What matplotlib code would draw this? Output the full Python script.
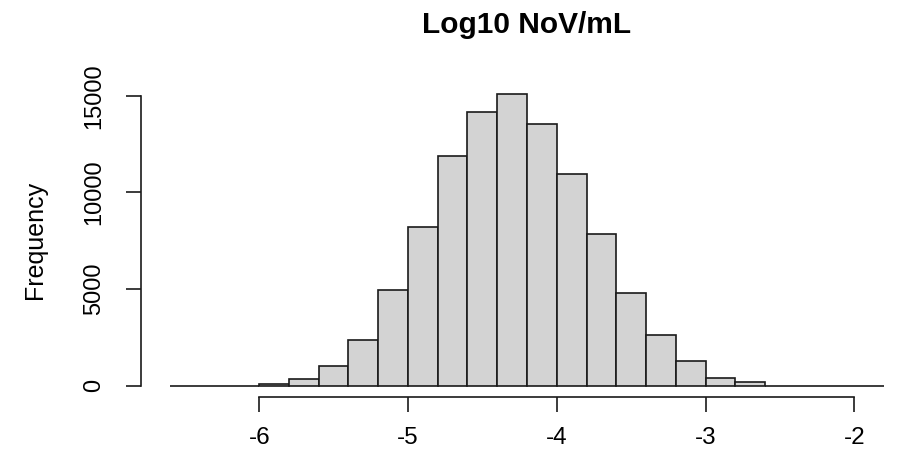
import numpy as np
from matplotlib import pyplot as plt

plt.rcParams['font.family'] = ['Liberation Sans', 'DejaVu Sans']

# histogram of log10 NoV/mL, bins of width 0.2
bin_edges = np.round(np.arange(-6.6, -1.79, 0.2), 1)
counts = [0, 0, 0, 90, 330, 1010, 2360, 4960, 8210, 11865, 14180, 15100,
          13520, 10930, 7860, 4790, 2600, 1245, 415, 170, 0, 0, 0, 0]
x_ticks = [-6, -5, -4, -3, -2]
y_ticks = [0, 5000, 10000, 15000]

W, H = 899, 462
fig = plt.figure(figsize=(W / 100, H / 100), dpi=100)
# plot region in pixels (R style, extends past the right edge)
left, right, top, bottom = 141.4, 912.6, 82.1, 397.2
ax = fig.add_axes([left / W, 1 - bottom / H, (right - left) / W, (bottom - top) / H])

ax.bar(bin_edges[:-1], counts, width=0.2, align='edge',
       color='#d3d3d3', edgecolor='#1a1a1a', linewidth=1.2)

ax.set_xlim(-6.792, -1.608)
ax.set_ylim(-604, 15704)

for s in ['top', 'right']:
    ax.spines[s].set_visible(False)
ax.spines['left'].set_bounds(0, 15000)
ax.spines['bottom'].set_bounds(-6, -2)
for s in ['left', 'bottom']:
    ax.spines[s].set_linewidth(1.2)
    ax.spines[s].set_color('#1a1a1a')

ax.set_xticks(x_ticks)
ax.set_xticklabels([str(v) for v in x_ticks])
ax.set_yticks(y_ticks)
ax.set_yticklabels([str(v) for v in y_ticks], rotation=90, va='center')
ax.tick_params(axis='both', length=10.8, width=1.2, color='#1a1a1a', direction='out')
ax.tick_params(axis='x', labelsize=17.5, pad=11)
ax.tick_params(axis='y', labelsize=17, pad=15)

fig.text(526.7 / W, 1 - 32.7 / H, 'Log10 NoV/mL', ha='center', va='baseline',
         fontsize=21.5, fontweight='bold')
fig.text(35 / W, 1 - 240 / H, 'Frequency', rotation=90, ha='center', va='center',
         fontsize=18)

fig.savefig('out.png', dpi=100)
